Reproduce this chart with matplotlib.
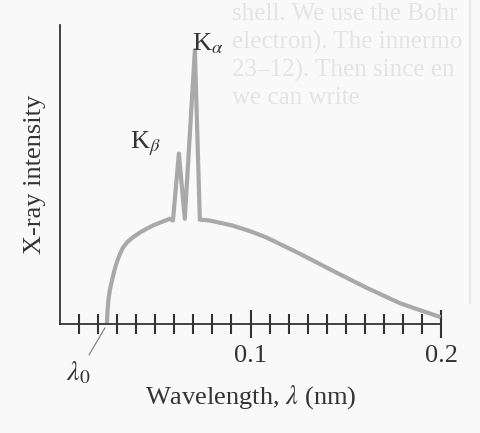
import numpy as np
import matplotlib.pyplot as plt

plt.rcParams['font.family'] = ['Liberation Serif', 'DejaVu Serif']
plt.rcParams['mathtext.fontset'] = 'stix'

# spectrum: wavelength (nm) and relative intensity
wavelength = [0.0246, 0.0249, 0.0254, 0.0262, 0.0273, 0.0286, 0.0299, 0.0315,
              0.0330, 0.0355, 0.0383, 0.0420, 0.0456, 0.0490, 0.0524, 0.0577,
              0.0593, 0.0624, 0.0655, 0.0708, 0.0734, 0.0787, 0.0907, 0.1000,
              0.1085, 0.1259, 0.1432, 0.1610, 0.1783, 0.1872, 0.1998]
intensity = [0.000, 0.040, 0.080, 0.115, 0.146, 0.180, 0.208, 0.235,
             0.255, 0.275, 0.290, 0.306, 0.319, 0.330, 0.339, 0.352,
             0.346, 0.570, 0.352, 0.916, 0.349, 0.346, 0.329, 0.310,
             0.289, 0.235, 0.178, 0.121, 0.070, 0.050, 0.023]

minor_ticks = np.arange(1, 20) / 100
major_ticks = [0.1, 0.2]
major_labels = ['0.1', '0.2']

lambda0 = 0.0236

# faint text showing through from the page behind
ghost_lines = ['shell. We use the Bohr',
               'electron). The innermo',
               '23\u201312). Then since en',
               'we can write']

fig = plt.figure(figsize=(4.8, 4.33), dpi=100, facecolor='#f9f9f9')
for i, line in enumerate(ghost_lines):
    fig.text(232 / 480, 1 - (14 + 28 * i) / 433, line, fontsize=18,
             color='#e4e4e4', va='center', ha='left', zorder=0)
fig.add_artist(plt.Line2D([470 / 480, 470 / 480], [0.3, 1.0],
                          color='#e6e6e6', lw=1.5, zorder=0))

ax = fig.add_axes([60 / 480, 1 - 324 / 433, 381 / 480, 299 / 433])
ax.patch.set_alpha(0)

ax.plot(wavelength, intensity, color='#a9a9a9', lw=3.0,
        solid_joinstyle='round', solid_capstyle='butt', clip_on=False)

ax.set_xlim(0, 0.2)
ax.set_ylim(0, 1)
for s in ['top', 'right']:
    ax.spines[s].set_visible(False)
for s in ['left', 'bottom']:
    ax.spines[s].set_color('#333333')
    ax.spines[s].set_linewidth(1.3)

ax.set_yticks([])
ax.set_xticks(major_ticks)
ax.set_xticklabels(major_labels)
ax.set_xticks([t for t in minor_ticks if abs(t - 0.1) > 1e-9], minor=True)
ax.tick_params(axis='x', which='major', direction='inout', length=20,
               width=1.5, color='#333333', labelsize=19, pad=5,
               labelcolor='#333333')
ax.tick_params(axis='x', which='minor', direction='inout', length=15,
               width=1.5, color='#333333')

ax.set_xlabel(r'Wavelength, $\lambda$ (nm)', fontsize=19, color='#333333',
              labelpad=12)
ax.set_ylabel('X-ray intensity', fontsize=19, color='#333333', labelpad=10)

ax.text(0.0692, 0.916, r'K$_\alpha$', fontsize=19, color='#333333',
        ha='left', va='baseline')
ax.text(0.0367, 0.587, r'K$_\beta$', fontsize=19, color='#333333',
        ha='left', va='baseline')

ax.annotate(r'$\lambda_0$', xy=(lambda0, -0.013), xytext=(0.0095, -0.165),
            fontsize=20, color='#333333', ha='center', va='center',
            annotation_clip=False,
            arrowprops=dict(arrowstyle='-', color='#777777', lw=0.8,
                            shrinkA=2, shrinkB=0))

fig.savefig('out.png', dpi=100, facecolor=fig.get_facecolor())
